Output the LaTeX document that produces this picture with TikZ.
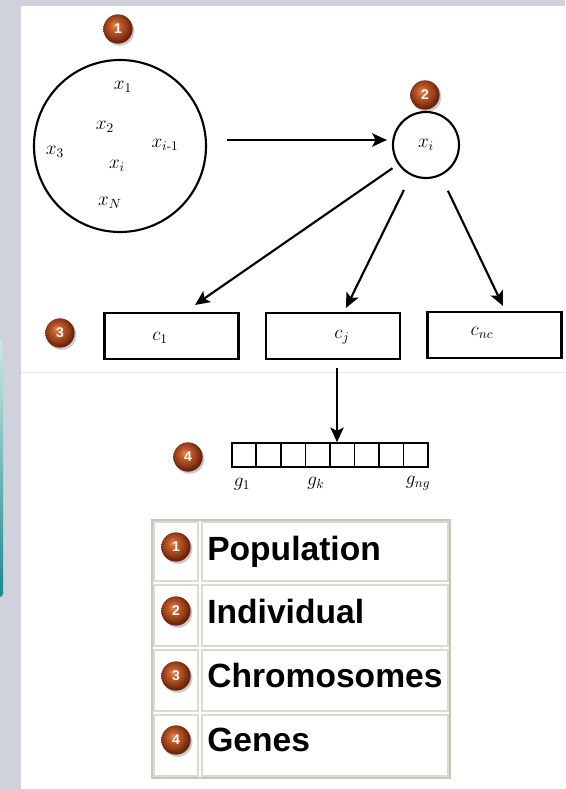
\documentclass[tikz,border=0pt]{standalone}
\usepackage{amsmath}
\usepackage{fontspec}
\newfontfamily\arial{Liberation Sans}
\usetikzlibrary{arrows.meta,calc}
\definecolor{bgray}{RGB}{207,210,218}
\definecolor{tabout}{RGB}{198,198,188}
\definecolor{tabin}{RGB}{218,218,208}
\definecolor{faint}{RGB}{228,228,228}
\definecolor{tealtop}{RGB}{205,230,230}
\definecolor{tealbot}{RGB}{25,138,138}
\pgfdeclareradialshading{orb}{\pgfpoint{-6bp}{7bp}}{%
 rgb(0bp)=(0.90,0.55,0.33);
 rgb(8bp)=(0.76,0.37,0.17);
 rgb(18bp)=(0.60,0.25,0.10);
 rgb(25bp)=(0.42,0.15,0.05);
 rgb(50bp)=(0.42,0.15,0.05)}
\begin{document}
\begin{tikzpicture}[x=0.75pt,y=-0.75pt,
  arr/.style={line width=1.6pt,-{Stealth[length=11pt,width=10pt,inset=2.5pt]}},
  box/.style={draw,line width=1.6pt,minimum width=100.5pt,minimum height=34.5pt,inner sep=0pt},
  gcell/.style={draw,line width=1.2pt,minimum width=18.4pt,minimum height=18pt,inner sep=0pt},
  orb/.style={circle,minimum size=22pt,inner sep=0pt,shading=orb,text=white,
    font=\arial\bfseries\fontsize{10.5}{10.5}\selectfont,
    preaction={fill=black,opacity=0.2,transform canvas={shift={(1.3pt,-1.6pt)}}}},
  lbl/.style={font=\fontsize{14}{16}\selectfont,inner sep=0pt},
  ttext/.style={font=\arial\bfseries\fontsize{25.2}{30}\selectfont,anchor=base west,inner sep=0pt}]
\useasboundingbox (0,0) rectangle (565,789);
% page background
\fill[bgray] (0,0) rectangle (565,789);
\fill[white] (21,6) rectangle (565,789);
\shade[top color=tealtop,bottom color=tealbot,rounded corners=2.5pt] (-6,340) rectangle (3,597);
\draw[faint,line width=0.75pt] (21,372) -- (565,372);

% population
\node[draw,circle,line width=1.6pt,minimum size=129pt,inner sep=0pt] (pop) at (120,146) {};
\node[lbl] (p1) at (123,87) {$x_1$};
\node[lbl] (p2) at (105,127) {$x_2$};
\node[lbl] (p3) at (55,152) {$x_3$};
\node[lbl] (p4) at (165,145) {$x_{i\text{-}1}$};
\node[lbl] (p5) at (117,166) {$x_i$};
\node[lbl] (p6) at (110,203) {$x_N$};
\node[orb] (b1) at (118,29) {1};

% individual
\node[draw,circle,line width=1.6pt,minimum size=49.5pt,inner sep=0pt,font=\fontsize{14}{16}\selectfont] (ind) at (426,145) {$x_i$};
\node[orb] (b2) at (425,95) {2};
\draw[arr] ($(pop.east)+(20,-6)$) -- ($(ind.west)+(-5,-5)$);

% chromosomes
\node[box] (c1) at (171.5,336) {};
\node[box] (cj) at (333.3,336) {};
\node[box] (cn) at (494.5,335) {};
\node[lbl] (lc1) at (160,338) {$c_1$};
\node[lbl] (lcj) at (342,337) {$c_j$};
\node[lbl] (lcn) at (482,333) {$c_{nc}$};
\node[orb] (b3) at (60,333) {3};
\coordinate (t1) at ($(c1.north)+(23.5,-7)$);
\coordinate (t2) at ($(cj.north)+(12.7,-4)$);
\coordinate (t3) at ($(cn.north)+(8.5,-5)$);
\draw[arr,shorten <=5pt] (ind) -- (t1);
\draw[arr,shorten <=12pt] (ind) -- (t2);
\draw[arr,shorten <=12.5pt] (ind) -- (t3);

% genes
\foreach \i in {1,...,8} {
  \node[gcell] (g\i) at ({231.7+24.54*(\i-0.5)},455) {};
}
\node[lbl] (lg1) at (242,484) {$g_1$};
\node[lbl] (lgk) at (316,483) {$g_k$};
\node[lbl] (lgn) at (418,483) {$g_{ng}$};
\node[orb] (b4) at (188,457) {4};
\coordinate (gs) at ($(cj.south)+(3.7,8)$);
\draw[arr] (gs) -- (gs |- g5.north);

% legend table
\draw[tabout,line width=1.1pt] (152,520) rectangle (450,778);
\foreach \ya/\yb in {522/581,585/646,650/711,715/776} {
  \draw[tabin,line width=0.9pt] (154,\ya) rectangle (198,\yb);
  \draw[tabin,line width=0.9pt] (202,\ya) rectangle (448,\yb);
}
\node[orb] (k1) at (176,547) {1};
\node[orb] (k2) at (176,611) {2};
\node[orb] (k3) at (176,676) {3};
\node[orb] (k4) at (176,740) {4};
\node[ttext] (n1) at (207,560) {Population};
\node[ttext] (n2) at (207,623) {Individual};
\node[ttext] (n3) at (207,687) {Chromosomes};
\node[ttext] (n4) at (207,751) {Genes};
\end{tikzpicture}
\end{document}
